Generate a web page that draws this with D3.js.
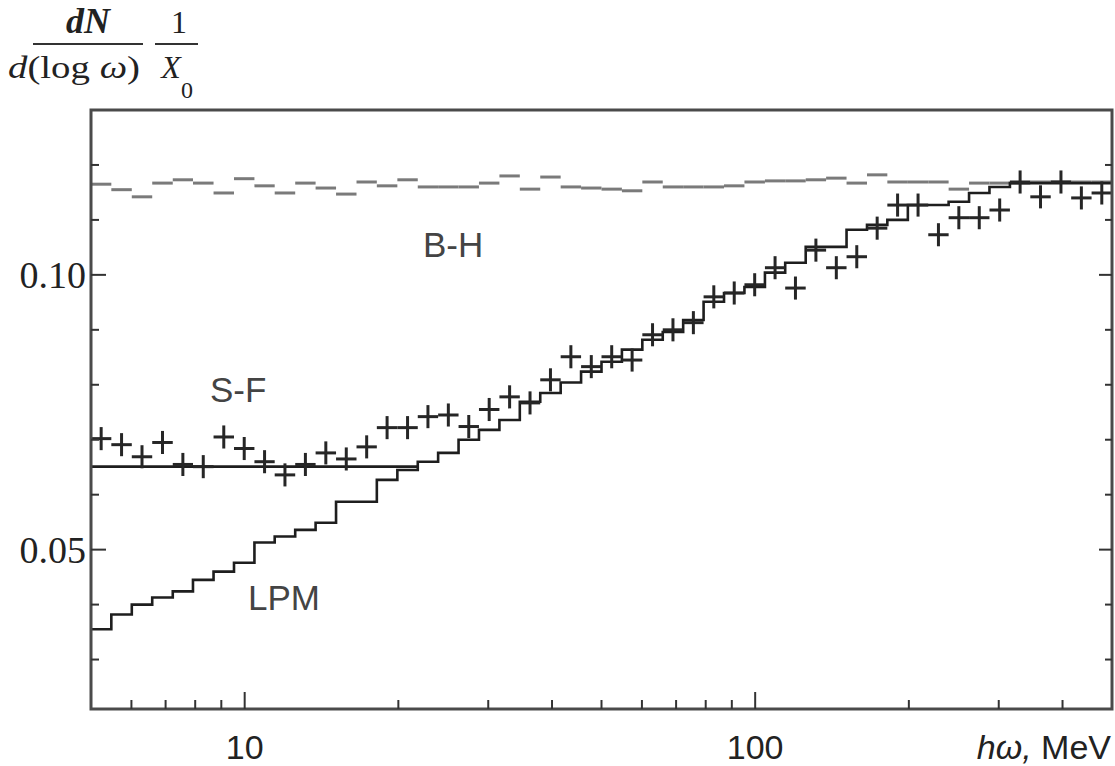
<!DOCTYPE html>
<html>
<head>
<meta charset="utf-8">
<script src="https://cdn.jsdelivr.net/npm/d3@7"></script>
<style>
  html, body { margin: 0; padding: 0; background: #fff; }
  svg { display: block; }
</style>
</head>
<body>
<svg id="chart" width="1115" height="766"></svg>
<script>
// ---- data ----
// bin edges (MeV), 25 bins per decade
const binEdges = [5.00, 5.48, 6.01, 6.59, 7.23, 7.92, 8.69, 9.53, 10.45, 11.45, 12.56, 13.77, 15.10, 16.56, 18.15, 19.91, 21.83, 23.93, 26.24, 28.77, 31.55, 34.59, 37.93, 41.59, 45.60, 50.00, 54.82, 60.11, 65.91, 72.27, 79.24, 86.89, 95.27, 104.5, 114.5, 125.6, 137.7, 151.0, 165.6, 181.5, 199.1, 218.3, 239.3, 262.4, 287.7, 315.5, 345.9, 379.3, 415.9, 456.0, 500.0];
// LPM prediction (per bin)
const lpmValues = [0.0355,0.0382,0.0400,0.0413,0.0424,0.0445,0.0460,0.0476,0.0513,0.0524,0.0536,0.0549,0.0587,0.0587,0.0627,0.0645,0.0660,0.0676,0.0700,0.0718,0.0736,0.0769,0.0785,0.0804,0.0824,0.0842,0.0864,0.0882,0.0896,0.0918,0.0951,0.0967,0.0978,0.1004,0.1022,0.1051,0.1051,0.1082,0.1091,0.1100,0.1127,0.1127,0.1133,0.1149,0.1160,0.1167,0.1167,0.1167,0.1167,0.1167];
// S-F (dielectric suppression) plateau, first bins
const sfValues = [0.0651,0.0651,0.0651,0.0651,0.0651,0.0651,0.0651,0.0651,0.0651,0.0651,0.0651,0.0651,0.0651,0.0651,0.0651,0.0651];
// Bethe-Heitler (per bin)
const bhValues = [0.1165,0.1155,0.1142,0.1167,0.1173,0.1167,0.1149,0.1175,0.1162,0.1149,0.1167,0.1158,0.1147,0.1169,0.1162,0.1173,0.1160,0.1160,0.1160,0.1167,0.1180,0.1156,0.1178,0.1160,0.1158,0.1156,0.1153,0.1169,0.1160,0.1160,0.1160,0.1162,0.1169,0.1171,0.1171,0.1173,0.1176,0.1167,0.1182,0.1169,0.1169,0.1169,0.1156,0.1167,0.1167,0.1167,0.1169,0.1169,0.1169,0.1169];
// measured points (per bin)
const dataValues = [0.0702,0.0691,0.0669,0.0695,0.0655,0.0651,0.0705,0.0684,0.0660,0.0636,0.0655,0.0676,0.0665,0.0687,0.0722,0.0722,0.0742,0.0745,0.0724,0.0755,0.0778,0.0767,0.0809,0.0851,0.0833,0.0851,0.0845,0.0891,0.0900,0.0913,0.0960,0.0967,0.0982,0.1013,0.0976,0.1045,0.1013,0.1033,0.1085,0.1127,0.1127,0.1073,0.1104,0.1104,0.1118,0.1169,0.1142,0.1169,0.1140,0.1149];
const dataErr = 0.0021;
// ticks
const xMinorTicks = [6,7,8,9,20,30,40,50,60,70,80,90,200,300,400];
const xMajorTicks = [10,100];
const xTickLabels = ["10","100"];
const yMinorTicks = [0.03,0.04,0.06,0.07,0.08,0.09,0.11,0.12];
const yMajorTicks = [0.05,0.10];
const yTickLabels = ["0.05","0.10"];
const seriesLabels = ["B-H","S-F","LPM"];

// ---- layout ----
const svg = d3.select("#chart");
const L = 91, R = 1112, T = 110, B = 709;
const x = d3.scaleLog().domain([5, 500]).range([L, R]);
const y = d3.scaleLinear().domain([0.021, 0.13]).range([B, T]);

const ink = "#1e1e1e";
const frameCol = "#4a4a4a";

function stepPoints(vals) {
  const pts = vals.map((v, i) => [binEdges[i], v]);
  pts.push([binEdges[vals.length], vals[vals.length - 1]]);
  return pts;
}
const stepLine = d3.line().x(d => x(d[0])).y(d => y(d[1])).curve(d3.curveStepAfter);

// B-H: grey horizontal segments per bin
svg.append("g").selectAll("line").data(bhValues).join("line")
  .attr("x1", (d, i) => x(binEdges[i]))
  .attr("x2", (d, i) => x(binEdges[i + 1]))
  .attr("y1", d => y(d)).attr("y2", d => y(d))
  .attr("stroke", "#7a7a7a").attr("stroke-width", 3);

// S-F plateau
svg.append("path").datum(stepPoints(sfValues))
  .attr("d", stepLine).attr("fill", "none")
  .attr("stroke", ink).attr("stroke-width", 2.6);

// LPM
svg.append("path").datum(stepPoints(lpmValues))
  .attr("d", stepLine).attr("fill", "none")
  .attr("stroke", ink).attr("stroke-width", 2.6);

// data crosses
const pts = dataValues.map((v, i) => ({ e0: binEdges[i], e1: binEdges[i + 1], v }));
const gp = svg.append("g").attr("stroke", "#262626").attr("stroke-width", 3);
gp.selectAll("line.h").data(pts).join("line").attr("class", "h")
  .attr("x1", d => x(d.e0)).attr("x2", d => x(d.e1))
  .attr("y1", d => y(d.v)).attr("y2", d => y(d.v));
gp.selectAll("line.v").data(pts).join("line").attr("class", "v")
  .attr("x1", d => x(Math.sqrt(d.e0 * d.e1))).attr("x2", d => x(Math.sqrt(d.e0 * d.e1)))
  .attr("y1", d => y(d.v - dataErr)).attr("y2", d => y(d.v + dataErr));

// frame
const fr = svg.append("g").attr("stroke", frameCol).attr("stroke-width", 3).attr("fill", "none");
fr.append("rect").attr("x", L).attr("y", T).attr("width", R - L).attr("height", B - T);

// ticks
const tg = svg.append("g").attr("stroke", "#333").attr("stroke-width", 2);
tg.selectAll("line.xm").data(xMinorTicks).join("line").attr("class", "xm")
  .attr("x1", d => x(d)).attr("x2", d => x(d)).attr("y1", B).attr("y2", B - 9);
tg.selectAll("line.xM").data(xMajorTicks).join("line").attr("class", "xM")
  .attr("x1", d => x(d)).attr("x2", d => x(d)).attr("y1", B).attr("y2", B - 17);
tg.selectAll("line.ym").data(yMinorTicks).join("line").attr("class", "ym")
  .attr("x1", L).attr("x2", L + 8).attr("y1", d => y(d)).attr("y2", d => y(d));
tg.selectAll("line.yM").data(yMajorTicks).join("line").attr("class", "yM")
  .attr("x1", L).attr("x2", L + 15).attr("y1", d => y(d)).attr("y2", d => y(d));
tg.selectAll("line.rm").data(yMinorTicks).join("line").attr("class", "rm")
  .attr("x1", R).attr("x2", R - 7).attr("y1", d => y(d)).attr("y2", d => y(d));
tg.selectAll("line.rM").data(yMajorTicks).join("line").attr("class", "rM")
  .attr("x1", R).attr("x2", R - 13).attr("y1", d => y(d)).attr("y2", d => y(d));

// tick labels
svg.selectAll("text.xl").data(xMajorTicks).join("text").attr("class", "xl")
  .attr("x", d => x(d)).attr("y", 759).attr("text-anchor", "middle")
  .attr("font-family", "Liberation Sans, Arial, sans-serif").attr("font-size", 34)
  .attr("fill", "#222").text((d, i) => xTickLabels[i]);
svg.selectAll("text.yl").data(yMajorTicks).join("text").attr("class", "yl")
  .attr("x", 86).attr("y", d => y(d) + 13).attr("text-anchor", "end")
  .attr("font-family", "Liberation Serif, Times New Roman, serif").attr("font-size", 38)
  .attr("fill", "#222").text((d, i) => yTickLabels[i]);

// x axis title
const xt = svg.append("text").attr("x", 1111).attr("y", 759).attr("text-anchor", "end")
  .attr("font-family", "Liberation Sans, Arial, sans-serif").attr("font-size", 34).attr("fill", "#222");
xt.append("tspan").attr("font-style", "italic").text("hω,");
xt.append("tspan").text(" MeV");

// y axis title (fraction)
const yt = svg.append("g").attr("font-family", "Liberation Serif, Times New Roman, serif").attr("fill", "#222");
yt.append("text").attr("x", 88).attr("y", 33).attr("text-anchor", "middle")
  .attr("font-size", 36).attr("font-style", "italic").attr("font-weight", "bold").text("dN");
yt.append("line").attr("x1", 33).attr("x2", 143).attr("y1", 44).attr("y2", 44)
  .attr("stroke", "#333").attr("stroke-width", 2);
const den = yt.append("text").attr("x", 74).attr("y", 78).attr("text-anchor", "middle")
  .attr("font-size", 32).attr("textLength", 132).attr("lengthAdjust", "spacingAndGlyphs");
den.append("tspan").attr("font-style", "italic").text("d");
den.append("tspan").text("(log ");
den.append("tspan").attr("font-style", "italic").text("ω");
den.append("tspan").text(")");
yt.append("text").attr("x", 179).attr("y", 33).attr("text-anchor", "middle")
  .attr("font-size", 32).text("1");
yt.append("line").attr("x1", 155).attr("x2", 198).attr("y1", 44).attr("y2", 44)
  .attr("stroke", "#333").attr("stroke-width", 2);
yt.append("text").attr("x", 171).attr("y", 78).attr("text-anchor", "middle")
  .attr("font-size", 32).attr("font-style", "italic").text("X");
yt.append("text").attr("x", 187).attr("y", 98).attr("text-anchor", "middle")
  .attr("font-size", 24).text("0");

// series labels
const labPos = [[423, 257], [210, 402], [248, 610]];
svg.selectAll("text.sl").data(seriesLabels).join("text").attr("class", "sl")
  .attr("x", (d, i) => labPos[i][0]).attr("y", (d, i) => labPos[i][1])
  .attr("font-family", "Liberation Sans, Arial, sans-serif").attr("font-size", 35)
  .attr("fill", "#444").text(d => d);
</script>
</body>
</html>
